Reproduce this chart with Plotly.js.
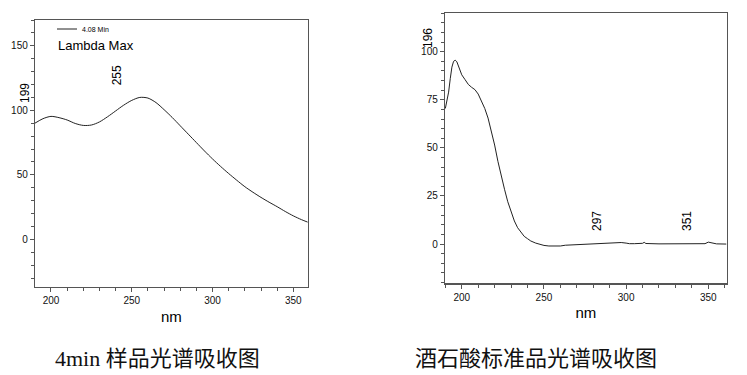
<!DOCTYPE html>
<html>
<head>
<meta charset="utf-8">
<script src="https://cdn.plot.ly/plotly-3.0.1.min.js"></script>
<style>html,body{margin:0;padding:0;background:#fff;}#chart{width:747px;height:375px;}</style>
</head>
<body>
<div id="chart"></div>
<script>
// ---- Data ----
var sampleNm = [190,195,200,205,210,215,220,225,230,235,240,245,250,255,260,265,270,275,280,285,290,295,300,305,310,315,320,325,330,335,340,345,350,355,359];
var sampleAbs = [90,93.5,95.3,94.3,92.5,89.8,88.3,88.6,91,95,99.5,104,107.7,110,109.5,106,100.5,94.5,88,81.5,75,68.5,62.3,56.5,51,45.8,40.8,36.5,32.5,28.8,25.3,21.6,18.2,15.3,13.3];

var stdNm = [190,191,192,193,194,195,196,197,198,199,200,202,204,206,208,210,212,214,216,218,220,222,224,226,228,230,232,234,236,238,240,242,245,248,250,253,256,260,263,266,270,275,280,285,290,294,297,300,302,305,310,311,312,320,330,340,348,350,352,355,361];
var stdAbs = [70.5,74,79,86,92,95,95.6,94.8,92.5,90,88,85.5,83,81.5,80.3,78,74.5,70.5,65.5,59,51.5,43,35,28.5,22,16.5,12,8.5,6,4,2.8,1.6,0.5,-0.3,-0.7,-1.0,-1.1,-1.0,-0.6,-0.5,-0.3,0,0,0.1,0.2,0.7,0.8,0.5,0.2,0.2,0.4,0.9,0.3,0.1,0.1,0.1,0.2,1.0,0.5,0.1,0];

var xTicks = [200,250,300,350];
var sampleYTicks = [0,50,100,150];
var stdYTicks = [0,25,50,75,100];
var sampleLegend = '4.08 Min';
var sampleHeader = 'Lambda Max';
var samplePeaks = ['199','255'];
var stdPeaks = ['196','297','351'];
var xTitle = 'nm';
var captions = ['4min 样品光谱吸收图', '酒石酸标准品光谱吸收图'];

// ---- Layout helpers ----
var W = 747, H = 375;
function px(x){ return x / W; }
function py(y){ return 1 - y / H; }

var axisFont = {family: 'Arial, Liberation Sans, sans-serif', size: 10, color: '#111'};
var lineCol = '#555';

function xAxis(domain, range, anchor){
  return {
    domain: domain, range: range, anchor: anchor,
    tickmode: 'array', tickvals: xTicks, ticktext: xTicks.map(String),
    ticks: 'outside', ticklen: 4, tickcolor: lineCol, tickwidth: 1,
    minor: {dtick: 10, tick0: 0, ticks: 'outside', ticklen: 3, tickcolor: lineCol},
    showline: true, linecolor: lineCol, linewidth: 1.2, mirror: true,
    showgrid: false, zeroline: false, tickfont: axisFont,
    title: {text: xTitle, font: {family: 'Arial, Liberation Sans, sans-serif', size: 15, color: '#000'}, standoff: 6}
  };
}
function yAxis(domain, range, anchor, ticks, minorDt){
  return {
    domain: domain, range: range, anchor: anchor,
    tickmode: 'array', tickvals: ticks, ticktext: ticks.map(String),
    ticks: 'outside', ticklen: 4, tickcolor: lineCol, tickwidth: 1,
    minor: {dtick: minorDt, tick0: 0, ticks: 'outside', ticklen: 3, tickcolor: lineCol},
    showline: true, linecolor: lineCol, linewidth: 1.2, mirror: true,
    showgrid: false, zeroline: false, tickfont: axisFont
  };
}

var traces = [
  {x: sampleNm, y: sampleAbs, xaxis: 'x', yaxis: 'y', type: 'scatter', mode: 'lines',
   line: {color: '#222', width: 1, shape: 'spline', smoothing: 0.8}, name: sampleLegend, showlegend: false},
  {x: stdNm, y: stdAbs, xaxis: 'x2', yaxis: 'y2', type: 'scatter', mode: 'lines',
   line: {color: '#222', width: 1}, name: 'std', showlegend: false}
];

var lblFont = {family: 'Arial, Liberation Sans, sans-serif', size: 12, color: '#000'};
function vlabel(text, x, y){
  return {text: text, xref: 'paper', yref: 'paper', x: px(x), y: py(y), textangle: -90,
          showarrow: false, font: lblFont, xanchor: 'center', yanchor: 'middle'};
}
var capFont = {family: 'Liberation Serif, Noto Sans CJK SC, serif', size: 22, color: '#111'};

var layout = {
  width: W, height: H, margin: {l: 0, r: 0, t: 0, b: 0},
  paper_bgcolor: '#fff', plot_bgcolor: '#fff', showlegend: false,
  xaxis: xAxis([px(35), px(307.7)], [190.1, 358.9], 'y'),
  yaxis: yAxis([py(286.7), py(20)], [-36.7, 170], 'x', sampleYTicks, 10),
  xaxis2: xAxis([px(445), px(726.7)], [189.8, 361.2], 'y2'),
  yaxis2: yAxis([py(283.3), py(12.7)], [-20.4, 120.3], 'x2', stdYTicks, 5),
  shapes: [
    {type: 'line', xref: 'paper', yref: 'paper', x0: px(57), x1: px(77), y0: py(29), y1: py(29),
     line: {color: '#222', width: 1}}
  ],
  annotations: [
    {text: sampleLegend, xref: 'paper', yref: 'paper', x: px(80), y: py(29), xanchor: 'left', yanchor: 'middle',
     showarrow: false, font: {family: 'Arial, Liberation Sans, sans-serif', size: 7, color: '#000'}},
    {text: sampleHeader, xref: 'paper', yref: 'paper', x: px(56), y: py(45), xanchor: 'left', yanchor: 'middle',
     showarrow: false, font: {family: 'Arial, Liberation Sans, sans-serif', size: 13, color: '#000'}},
    vlabel(samplePeaks[0], 25, 93),
    vlabel(samplePeaks[1], 117.3, 75),
    vlabel(stdPeaks[0], 428, 38),
    vlabel(stdPeaks[1], 597, 221),
    vlabel(stdPeaks[2], 687, 221),
    {text: captions[0], xref: 'paper', yref: 'paper', x: px(157.5), y: py(358), xanchor: 'center', yanchor: 'middle',
     showarrow: false, font: capFont},
    {text: captions[1], xref: 'paper', yref: 'paper', x: px(535.5), y: py(358), xanchor: 'center', yanchor: 'middle',
     showarrow: false, font: capFont}
  ]
};

Plotly.newPlot('chart', traces, layout, {staticPlot: true, displayModeBar: false});
</script>
</body>
</html>
